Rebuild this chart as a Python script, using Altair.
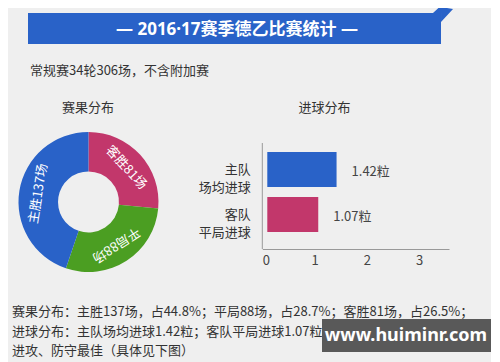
import altair as alt
import pandas as pd

FONT = "Noto Sans CJK SC"
TITLE_FONT = "'Noto Sans', 'Noto Sans CJK SC'"
W, H = 483, 354

# ---- data ----
results = ["客胜", "平局", "主胜"]
result_counts = [81, 88, 137]
bar_cats = ["主队 场均进球", "客队 平局进球"]
bar_goals = [1.42, 1.07]
x_ticks = [0, 1, 2, 3]

title_text = "—  2016·17赛季德乙比赛统计  —"
subtitle_text = "常规赛34轮306场，不含附加赛"
pie_title = "赛果分布"
bar_title = "进球分布"
notes = [
    "赛果分布：主胜137场，占44.8%；平局88场，占28.7%；客胜81场，占26.5%；",
    "进球分布：主队场均进球1.42粒；客队平局进球1.07粒；场均总进球2.49粒，",
    "进攻、防守最佳（具体见下图）",
]
watermark = "www.huiminr.com"

BLUE = "#2962c8"
CRIMSON = "#c2376b"
GREEN = "#4b9e22"
TEXT = "#333333"

dummy = pd.DataFrame({"k": [0]})


def box(x1, x2, y1, y2, color):
    return alt.Chart(dummy).mark_rect(color=color).encode(
        x=alt.value(x1), x2=alt.value(x2), y=alt.value(y1), y2=alt.value(y2)
    )


def label(x, y, text, font=FONT, **kw):
    return alt.Chart(dummy).mark_text(font=font, **kw).encode(
        x=alt.value(x), y=alt.value(y), text=alt.value(text)
    )


# banner
banner = box(20, 433, 5, 36, BLUE)
tip = alt.Chart(dummy).mark_point(
    shape="M-0.18,0.09 L-0.91,0.09 L0.18,-0.91 L0.36,-0.36 L0.91,-0.27 L-0.18,0.91 Z",
    size=484, filled=True, color=BLUE, opacity=1, strokeWidth=0,
).encode(x=alt.value(435), y=alt.value(4))
title = label(229, 22, title_text, font=TITLE_FONT, fontSize=17, fontWeight="bold", color="white",
              align="center", baseline="middle")
subtitle = label(22, 63, subtitle_text, fontSize=13, color=TEXT, align="left", baseline="middle")
pie_t = label(80, 100, pie_title, fontSize=13, color=TEXT, align="center", baseline="middle")
bar_t = label(316.5, 100, bar_title, fontSize=13, color=TEXT, align="center", baseline="middle")

# donut
pie_df = pd.DataFrame({"result": results, "count": result_counts, "idx": list(range(len(results)))})
pie_base = (
    alt.Chart(pie_df)
    .transform_joinaggregate(total="sum(count)")
    .transform_window(cum="sum(count)", sort=[alt.SortField("idx")], frame=[None, 0])
    .transform_calculate(
        mid="(datum.cum - datum.count / 2) / datum.total * 360",
        lab="datum.result + datum.count + '场'",
    )
    .encode(
        theta=alt.Theta("count:Q", stack=True),
        order=alt.Order("idx:Q"),
        x=alt.value(80.5),
        y=alt.value(194),
    )
)
arc = pie_base.mark_arc(outerRadius=70, innerRadius=30.5).encode(
    color=alt.Color("result:N", scale=alt.Scale(domain=results, range=[CRIMSON, GREEN, BLUE]), legend=None)
)
arc_text = pie_base.mark_text(radius=51, fontSize=13, color="white", font=FONT, baseline="middle").encode(
    text="lab:N", angle=alt.Angle("mid:Q", scale=None)
)

# bar chart
bar_df = pd.DataFrame({"cat": bar_cats, "goals": bar_goals})
xs = alt.Scale(domain=[0, 3.57], range=[254.3, 441], nice=False, zero=True)
ys = alt.Scale(domain=bar_cats, range=[139, 229], paddingInner=0.22, paddingOuter=0.11)

bars = alt.Chart(bar_df).mark_bar(x2Offset=5).encode(
    x=alt.X("goals:Q", scale=xs, axis=alt.Axis(
        values=x_ticks, ticks=False, grid=False, domainColor="#999999", labelFontSize=13,
        labelColor="#444444", labelPadding=5, offset=-113, title=None, labelFont=FONT, format="d")),
    x2=alt.datum(0),
    y=alt.Y("cat:N", scale=ys, sort=bar_cats, axis=alt.Axis(
        domain=False, ticks=False, labelExpr="split(datum.label, ' ')", labelAlign="right",
        labelPadding=12, labelFontSize=13, labelColor=TEXT, labelLineHeight=18,
        offset=-254.3, title=None, labelFont=FONT, labelBaseline="middle")),
    fill=alt.Fill("cat:N", scale=alt.Scale(domain=bar_cats, range=[BLUE, CRIMSON]), legend=None),
)
yline = alt.Chart(dummy).mark_rule(color="#999999").encode(
    x=alt.datum(0), y=alt.value(135), y2=alt.value(241)
)
vals = alt.Chart(bar_df).transform_calculate(
    lab="format(datum.goals, '.2f') + '粒'"
).mark_text(align="left", dx=15, dy=2, fontSize=13, color="#444444", font=FONT, baseline="middle").encode(
    x=alt.X("goals:Q", scale=xs), y=alt.Y("cat:N", scale=ys, sort=bar_cats), text="lab:N"
)

# notes + watermark
note_text = alt.Chart(dummy).mark_text(
    font=FONT, fontSize=13, color=TEXT, align="left", baseline="middle", lineHeight=19.5
).encode(x=alt.value(4), y=alt.value(304), text=alt.value(notes))
wm_box = box(314, 483, 311, 344, "#595959")
wm_text = label(398, 327.5, watermark, font=TITLE_FONT, fontSize=18, fontWeight="bold", color="white",
                align="center", baseline="middle")

chart = alt.layer(
    banner, tip, title, subtitle, pie_t, bar_t,
    arc, arc_text, yline, bars, vals,
    note_text, wm_box, wm_text,
).properties(
    width=W, height=H, background="#efefef", padding=0, autosize="none"
).configure_view(stroke=None)

chart.save("out.html", embed_options={"renderer": "svg", "actions": False})
